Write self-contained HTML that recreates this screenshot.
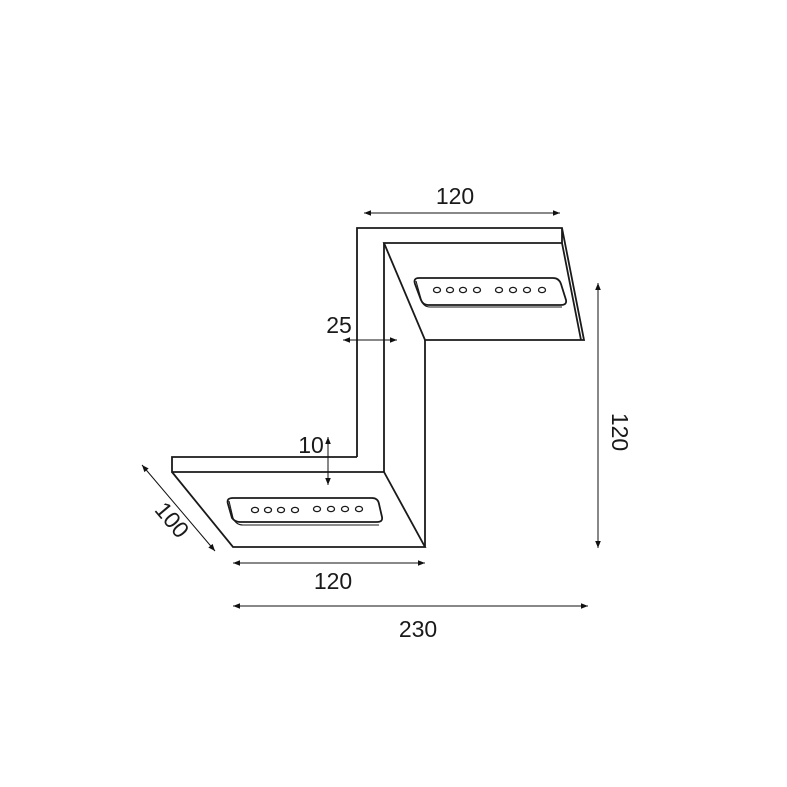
<!DOCTYPE html>
<html><head><style>
html,body{margin:0;padding:0;background:#fff;}
svg{display:block}
text{font-family:"Liberation Sans",sans-serif;font-size:23px;fill:#1a1a1a}
</style></head><body>
<svg width="787" height="787" viewBox="0 0 787 787" xmlns="http://www.w3.org/2000/svg">
<defs>
<marker id="a" viewBox="0 0 10 10" refX="10" refY="5" markerWidth="7" markerHeight="7" orient="auto-start-reverse"><path d="M0,1 L10,5 L0,9 z" fill="#111"/></marker>
</defs>
<g fill="none" stroke="#1a1a1a" stroke-width="1.8" stroke-linejoin="miter">
<path d="M357,457 L357,228 L562,228 L584,340 L425,340 L384,243 L562,243 L562,228"/>
<path d="M562,243 L581,340"/>
<path d="M384,243 L384,472"/>
<path d="M425,340 L425,547"/>
<path d="M357,457 L172,457 L172,472 L384,472 L425,547 L233,547 L172,472"/>
<path d="M419,278 L553,278 Q559,278 561,284 L566,300 Q567,305 561,305 L428,305 Q423,305 421,300 L415,284 Q413,278 419,278 Z"/>
<path d="M416,281 L421,299 Q423,307 430,307 L562,307" stroke-width="1.1"/>
<path d="M233,498 L372,498 Q378,498 379,504 L382,517 Q383,522 377,522 L240,522 Q235,522 232,518 L228,504 Q226,498 233,498 Z"/>
<path d="M229,501 L233,518 Q236,525 243,525 L379,525" stroke-width="1.1"/>
</g>
<g fill="none" stroke="#1a1a1a" stroke-width="1.3">
<ellipse cx="437" cy="290" rx="3.5" ry="2.6"/><ellipse cx="450" cy="290" rx="3.5" ry="2.6"/><ellipse cx="463" cy="290" rx="3.5" ry="2.6"/><ellipse cx="477" cy="290" rx="3.5" ry="2.6"/>
<ellipse cx="499" cy="290" rx="3.5" ry="2.6"/><ellipse cx="513" cy="290" rx="3.5" ry="2.6"/><ellipse cx="527" cy="290" rx="3.5" ry="2.6"/><ellipse cx="542" cy="290" rx="3.5" ry="2.6"/>
<ellipse cx="255" cy="510" rx="3.5" ry="2.6"/><ellipse cx="268" cy="510" rx="3.5" ry="2.6"/><ellipse cx="281" cy="510" rx="3.5" ry="2.6"/><ellipse cx="295" cy="510" rx="3.5" ry="2.6"/>
<ellipse cx="317" cy="509" rx="3.5" ry="2.6"/><ellipse cx="331" cy="509" rx="3.5" ry="2.6"/><ellipse cx="345" cy="509" rx="3.5" ry="2.6"/><ellipse cx="359" cy="509" rx="3.5" ry="2.6"/>
</g>
<g stroke="#111" stroke-width="1" marker-start="url(#a)" marker-end="url(#a)">
<line x1="364" y1="213" x2="560" y2="213"/>
<line x1="343" y1="340" x2="397" y2="340"/>
<line x1="328" y1="437" x2="328" y2="485"/>
<line x1="598" y1="283" x2="598" y2="548"/>
<line x1="142" y1="465" x2="215" y2="551"/>
<line x1="233" y1="563" x2="425" y2="563"/>
<line x1="233" y1="606" x2="588" y2="606"/>
</g>
<text x="455" y="204" text-anchor="middle">120</text>
<text x="339" y="333" text-anchor="middle">25</text>
<text x="311" y="453" text-anchor="middle">10</text>
<text x="333" y="589" text-anchor="middle">120</text>
<text x="418" y="637" text-anchor="middle">230</text>
<text transform="translate(612,432) rotate(90)" text-anchor="middle">120</text>
<text transform="translate(166,525) rotate(50)" text-anchor="middle">100</text>
</svg>
</body></html>
